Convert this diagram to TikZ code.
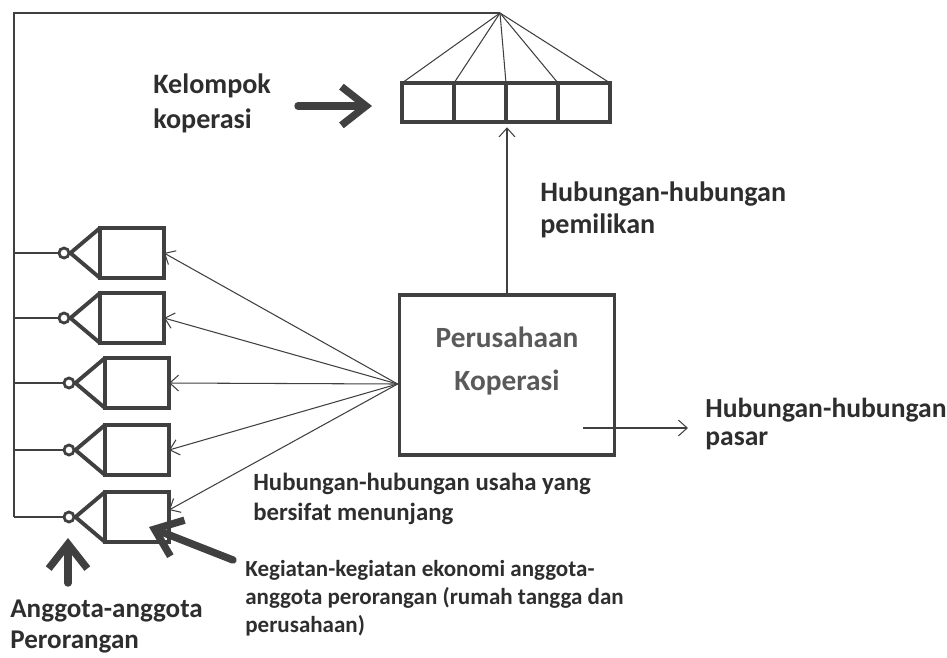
\documentclass[tikz,border=0pt]{standalone}
\usepackage{fontspec}
\setmainfont{Carlito}
\usetikzlibrary{positioning, arrows.meta, calc}
\definecolor{ln}{HTML}{404040}
\definecolor{txt}{HTML}{2E2E2E}
\definecolor{boxtxt}{HTML}{5A5A5A}

\begin{document}
\begin{tikzpicture}[
  x=0.02cm, y=-0.02cm,
  lbl/.style 2 args={font=\bfseries\fontsize{#1}{#2}\selectfont, text=txt, align=left, anchor=base west, inner sep=0pt},
  boxlbl/.style={font=\bfseries\fontsize{16.7}{24}\selectfont, text=boxtxt, align=center, inner sep=0pt},
  wire/.style={draw=ln, line width=0.6pt},
  tip/.style={-{Straight Barb[length=5pt,width=9pt]}},
  fat/.style={draw=ln, line width=4.2pt, line cap=round, line join=round, -{Straight Barb[length=14pt,width=22pt]}},
  cell/.style={draw=ln, line width=2.2pt, minimum width=1.04cm, minimum height=0.78cm, inner sep=0pt, outer sep=0pt},
  member/.style={draw=ln, line width=2.2pt, minimum width=1.28cm, minimum height=1cm, inner sep=0pt, outer sep=0pt},
  knot/.style={circle, draw=ln, line width=1.6pt, minimum size=0.2cm, inner sep=0pt},
  bigbox/.style={draw=ln, line width=2.2pt, minimum width=4.3cm, minimum height=3.2cm, inner sep=0pt},
]
\useasboundingbox (0,0) rectangle (947,657);

% Frame and group of cooperatives
\coordinate (corner) at (14,13);
\coordinate (apex) at (500,13);
\coordinate (fbot) at (14,517);
\draw[wire, line width=1pt] (apex) -- (corner) -- (fbot);

\foreach \i/\x in {1/428,2/480,3/532,4/584}
  \node[cell] (cell\i) at (\x,102.5) {};
\foreach \a in {cell1.north west, cell1.north east, cell2.north east, cell3.north east, cell4.north east}
  \draw[wire] (apex) -- (\a);

% Cooperative enterprise
\node[bigbox] (pk) at (507,375) {};
\node[boxlbl] (pkt) at (507,361) {Perusahaan\\Koperasi};
\coordinate (src) at ($(pk.west)+(0,9)$);
\draw[wire, tip, shorten >=3pt] (pk.north) -- (pk.north |- cell2.south);

% Individual members
\foreach \i/\xc/\yc in {1/64/253, 2/64/318, 3/69/383, 4/69/450, 5/69/517} {
  \node[knot] (k\i) at (\xc,\yc) {};
  \node[member, anchor=west] (m\i) at (\xc+36,\yc) {};
  \draw[ln, line width=2.2pt, line join=round] (m\i.north west) -- (k\i.east) -- (m\i.south west);
  \draw[ln, line width=1.6pt] (corner |- k\i) -- (k\i.west);
}
\foreach \i in {1,...,4} \draw[wire, tip] (src) -- (m\i.east);
\draw[wire, tip] (src) -- ($(m5.east)+(0,-7)$);

% Market relations
\coordinate (mkin) at (583,428);
\coordinate (mkout) at (688,428);
\draw[wire, tip] (mkin) -- (mkout);

% Labels (anchored at the baseline of their last line)
\node[lbl={16}{19.8}] (kelompok) at (153,128) {Kelompok\\koperasi};
\node[lbl={16}{18}] (pemilikan) at (540,233) {Hubungan-hubungan\\pemilikan};
\node[lbl={15.7}{15.9}] (pasar) at (705,445) {Hubungan-hubungan\\pasar};
\node[lbl={14.1}{17}] (usaha) at (253,520) {Hubungan-hubungan usaha yang\\bersifat menunjang};
\node[lbl={13.1}{15.9}] (kegiatan) at (245,632) {Kegiatan-kegiatan ekonomi anggota-\\anggota perorangan (rumah tangga dan\\perusahaan)};
\node[lbl={15.4}{17.6}] (anggota) at (10,648) {Anggota-anggota\\Perorangan};

% Thick pointers
\coordinate (kt) at (298,106); \coordinate (kh) at (372,106);
\coordinate (at) at (68,583); \coordinate (ah) at (68,538);
\coordinate (dt) at (233,560); \coordinate (dh) at (149,527);
\draw[fat] (kt) -- (kh);
\draw[fat] (at) -- (ah);
\draw[fat] (dt) -- (dh);
\end{tikzpicture}
\end{document}
